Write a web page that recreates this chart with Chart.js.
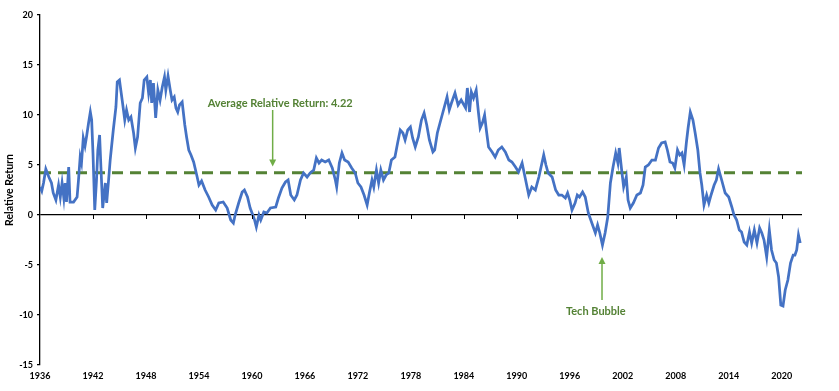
<!DOCTYPE html>
<html><head><meta charset="utf-8">
<script src="https://cdn.jsdelivr.net/npm/chart.js@4/dist/chart.umd.min.js"></script>
<style>html,body{margin:0;padding:0;background:#fff}#wrap{width:839px;height:391px;position:relative}</style>
</head><body><div id="wrap"><canvas id="c" width="839" height="391"></canvas></div>
<script>
const years = [
1936.0,1936.2,1936.4,1936.66,1937.0,1937.3,1937.5,1937.8,1938.1,1938.3,1938.5,1938.7,1938.85,1939.0,1939.25,1939.4,1939.8,
1940.2,1940.36,1940.55,1940.7,1940.9,1941.1,1941.3,1941.5,1941.7,1941.85,1942.0,1942.2,1942.4,1942.55,1942.75,1942.9,
1943.1,1943.4,1943.55,1943.75,1943.95,1944.1,1944.3,1944.6,1944.75,1945.0,1945.15,1945.35,1945.6,1945.8,1946.05,1946.3,
1946.6,1946.8,1947.05,1947.35,1947.6,1947.8,1948.1,1948.3,1948.5,1948.65,1948.85,1949.1,1949.35,1949.6,1949.85,1950.1,
1950.25,1950.5,1950.75,1950.95,1951.2,1951.4,1951.6,1951.8,1952.1,1952.4,1952.6,1952.85,1953.1,1953.4,1953.8,1954.0,
1954.3,1954.7,1955.1,1955.5,1955.9,1956.25,1956.75,1957.2,1957.6,1957.9,1958.1,1958.5,1958.9,1959.15,1959.5,1959.8,
1960.1,1960.3,1960.5,1960.8,1961.0,1961.35,1961.7,1962.1,1962.7,1963.0,1963.4,1963.8,1964.1,1964.4,1964.8,1965.1,
1965.5,1965.85,1966.25,1966.6,1967.0,1967.3,1967.6,1967.9,1968.3,1968.7,1969.1,1969.45,1969.6,1969.9,1970.2,1970.5,
1970.9,1971.3,1971.7,1972.0,1972.35,1972.7,1973.05,1973.3,1973.6,1973.8,1974.1,1974.35,1974.6,1974.9,1975.2,1975.5,
1975.8,1976.2,1976.5,1976.8,1977.1,1977.35,1977.65,1977.95,1978.2,1978.5,1978.85,1979.2,1979.5,1979.8,1980.1,1980.5,
1980.7,1981.0,1981.3,1981.7,1982.1,1982.35,1982.6,1983.0,1983.35,1983.7,1984.2,1984.4,1984.65,1984.85,1985.1,1985.4,
1985.65,1985.85,1986.1,1986.35,1986.55,1986.8,1987.2,1987.55,1987.9,1988.3,1988.7,1989.1,1989.45,1989.85,1990.2,1990.6,
1991.0,1991.35,1991.7,1992.1,1992.5,1993.05,1993.3,1993.55,1994.0,1994.4,1994.75,1995.1,1995.5,1995.75,1996.0,1996.25,
1996.6,1996.85,1997.1,1997.45,1997.75,1998.1,1998.5,1998.9,1999.15,1999.4,1999.7,2000.0,2000.3,2000.6,2000.9,2001.2,
2001.45,2001.6,2001.9,2002.1,2002.4,2002.6,2002.85,2003.2,2003.6,2004.0,2004.3,2004.55,2004.9,2005.3,2005.7,2006.05,
2006.4,2006.8,2007.05,2007.35,2007.65,2007.9,2008.2,2008.45,2008.7,2008.95,2009.2,2009.4,2009.65,2009.95,2010.2,2010.5,
2010.75,2010.95,2011.2,2011.5,2011.75,2012.0,2012.35,2012.6,2012.85,2013.2,2013.6,2014.0,2014.35,2014.6,2014.9,2015.2,
2015.45,2015.75,2016.05,2016.35,2016.6,2016.9,2017.2,2017.5,2017.75,2018.0,2018.3,2018.6,2018.85,2019.15,2019.4,2019.65,
2019.9,2020.15,2020.4,2020.7,2021.0,2021.3,2021.5,2021.7,2021.9,2022.1
];
const relReturn = [
2.8,2.4,3.2,4.6,3.8,3.2,2.2,1.5,3.0,1.8,3.2,1.7,3.2,1.3,4.8,1.3,1.3,
1.8,3.5,5.8,5.2,7.7,6.9,8.0,9.2,10.3,9.5,6.2,0.5,3.5,6.5,8.0,4.8,
0.7,3.2,1.2,3.3,5.5,6.8,8.5,10.8,13.3,13.5,12.5,11.2,9.5,10.5,9.5,9.8,
8.2,6.7,7.8,11.2,11.7,13.5,13.8,12.2,13.5,11.2,13.2,9.7,12.5,11.5,12.8,13.8,
12.5,13.9,12.5,11.5,11.8,10.7,10.3,11.0,11.3,9.0,7.8,6.5,6.0,5.3,3.8,3.0,
3.4,2.5,1.8,1.0,0.5,1.2,1.3,0.7,-0.5,-0.8,0.0,1.2,2.3,2.5,1.8,0.7,
0.0,-0.5,-1.2,0.0,-0.5,0.3,0.2,0.7,0.8,1.7,2.7,3.3,3.5,2.0,1.5,2.0,
3.5,4.2,3.8,4.2,4.5,5.7,5.2,5.5,5.3,5.5,4.7,3.5,2.8,5.2,6.2,5.5,
5.3,4.7,4.2,3.2,2.8,2.0,1.0,2.2,3.5,2.8,4.5,3.2,4.5,3.5,4.0,4.2,
5.5,5.8,7.2,8.5,8.2,7.5,8.5,8.8,7.7,6.8,7.8,9.5,10.2,9.0,7.5,6.3,
6.5,8.2,9.2,10.5,11.8,10.5,11.2,12.2,11.0,11.5,10.7,12.7,10.3,12.3,11.7,12.5,
10.3,8.7,9.2,10.0,8.5,6.8,6.3,5.8,6.5,6.8,6.3,5.5,5.3,4.8,4.3,5.2,
3.5,2.0,2.8,2.5,3.8,6.0,5.0,4.2,3.8,2.5,2.0,2.0,1.7,2.2,1.5,0.5,
1.2,2.0,1.8,2.3,1.8,0.2,-0.8,-1.8,-1.0,-1.8,-3.0,-1.8,-0.2,3.2,4.8,6.2,
5.2,6.7,4.3,2.8,3.8,1.5,0.7,1.2,2.0,2.2,3.0,4.8,5.0,5.5,5.5,6.7,
7.2,7.3,6.5,5.3,5.2,4.7,6.5,6.0,6.2,5.0,7.2,8.7,10.3,9.5,8.2,6.5,
4.2,3.0,1.0,2.0,1.2,2.0,3.0,3.5,4.6,3.5,2.2,1.8,0.8,0.0,-0.5,-1.5,
-1.7,-2.7,-3.0,-1.7,-2.8,-1.5,-2.8,-1.3,-1.8,-2.5,-4.2,-1.5,-3.5,-4.5,-4.8,-6.2,
-9.0,-9.1,-7.5,-6.5,-4.8,-4.0,-4.0,-3.5,-2.0,-2.8
];
const avgReturn = 4.22;
const xTickYears = [1936,1942,1948,1954,1960,1966,1972,1978,1984,1990,1996,2002,2008,2014,2020];
const yTickValues = [-15,-10,-5,0,5,10,15,20];
const yAxisTitle = 'Relative Return';
const annotations = [
  {text:'Average Relative Return: 4.22', tx:1963.2, ty:11.17, ax:1962.35, from:10.5, to:4.85},
  {text:'Tech Bubble', tx:1998.95, ty:-9.6, ax:1999.65, from:-8.5, to:-4.2}
];
const xMin = 1936, xMax = 2022.3;

const linePoints = years.map((yr,i)=>({x:yr, y:relReturn[i]}));
const avgPoints = [{x:xMin, y:avgReturn},{x:xMax, y:avgReturn}];

const decor = {
  id:'decor',
  afterDatasetsDraw(chart){
    const {ctx, scales:{x,y}} = chart;
    const y0 = y.getPixelForValue(0);
    ctx.save();
    ctx.strokeStyle='#000'; ctx.lineWidth=1;
    xTickYears.forEach((v,i)=>{
      if(i===0) return;
      const px=Math.round(x.getPixelForValue(v))+0.5;
      ctx.beginPath(); ctx.moveTo(px,y0); ctx.lineTo(px,y0+4); ctx.stroke();
    });
    annotations.forEach(a=>{
      const axp = x.getPixelForValue(a.ax);
      const y1 = y.getPixelForValue(a.from), y2 = y.getPixelForValue(a.to);
      const dir = Math.sign(y2-y1);
      ctx.strokeStyle='#70AD47'; ctx.fillStyle='#70AD47'; ctx.lineWidth=1.5;
      ctx.beginPath(); ctx.moveTo(axp,y1); ctx.lineTo(axp,y2-dir*6); ctx.stroke();
      ctx.beginPath(); ctx.moveTo(axp,y2); ctx.lineTo(axp-3.5,y2-dir*7); ctx.lineTo(axp+3.5,y2-dir*7); ctx.closePath(); ctx.fill();
      ctx.fillStyle='#548235'; ctx.font='bold 11px Lato'; ctx.textAlign='center'; ctx.textBaseline='middle';
      ctx.fillText(a.text, x.getPixelForValue(a.tx), y.getPixelForValue(a.ty));
    });
    ctx.restore();
  }
};

new Chart(document.getElementById('c'), {
  type:'line',
  data:{datasets:[
    {data:linePoints, borderColor:'#4472C4', borderWidth:2.75, pointRadius:0, tension:0, fill:false, order:1},
    {data:avgPoints, borderColor:'#548235', borderWidth:3, borderDash:[11,7], pointRadius:0, fill:false, order:2}
  ]},
  options:{
    responsive:false, animation:false, devicePixelRatio:1,
    layout:{padding:{left:0, top:15, right:37, bottom:0}},
    plugins:{legend:{display:false}, tooltip:{enabled:false}},
    scales:{
      x:{type:'linear', min:xMin, max:xMax,
        afterBuildTicks: s=>{ s.ticks = xTickYears.map(v=>({value:v})); },
        afterFit: s=>{ s.height = 26; },
        ticks:{callback:v=>String(v), color:'#000', font:{family:'Lato', size:9, weight:'bold'}, maxRotation:0, autoSkip:false, padding:6},
        grid:{display:false, drawTicks:false}, border:{display:false}},
      y:{min:-15, max:20,
        afterBuildTicks: s=>{ s.ticks = yTickValues.map(v=>({value:v})); },
        afterFit: s=>{ s.width = 40; },
        ticks:{color:'#000', font:{family:'Lato', size:9, weight:'bold'}, padding:4},
        grid:{color:c=> (c.tick && c.tick.value===0) ? '#000' : 'rgba(0,0,0,0)', lineWidth:1.3, tickColor:'#000', tickLength:3, drawTicks:true},
        border:{display:true, color:'#000', width:1.3},
        title:{display:true, text:yAxisTitle, color:'#000', font:{family:'Lato', size:10.5, weight:'bold'}, padding:{top:3, bottom:0}}
      }
    }
  },
  plugins:[decor]
});
</script></body></html>
